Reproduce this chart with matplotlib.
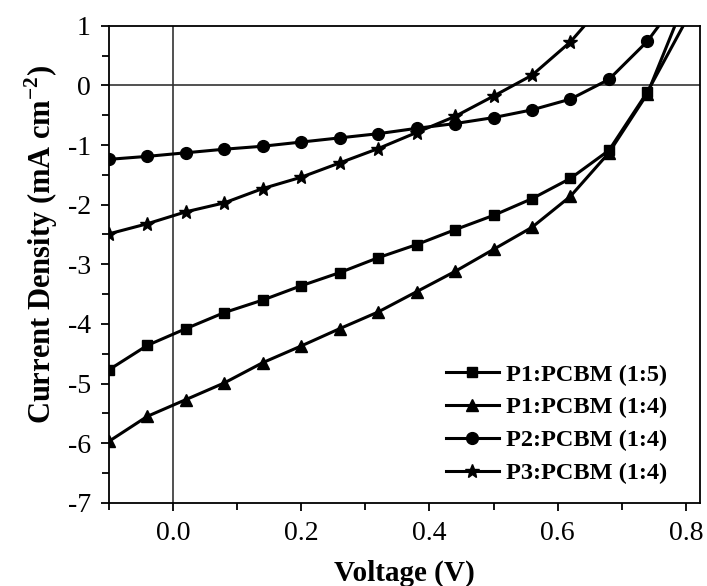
import numpy as np
import matplotlib
matplotlib.use("Agg")
import matplotlib.pyplot as plt
from matplotlib.ticker import MultipleLocator

plt.rcParams['font.family'] = ['Liberation Serif', 'DejaVu Serif']
plt.rcParams['mathtext.fontset'] = 'custom'
plt.rcParams['mathtext.rm'] = 'Liberation Serif'
plt.rcParams['mathtext.bf'] = 'Liberation Serif:bold'
plt.rcParams['axes.unicode_minus'] = False

# voltage at the marker positions (V)
v = [-0.10, -0.04, 0.02, 0.08, 0.14, 0.20, 0.26, 0.32, 0.38,
     0.44, 0.50, 0.56, 0.62, 0.68, 0.74]

# current density (mA cm^-2)
p1_15 = [-4.77, -4.36, -4.08, -3.81, -3.60, -3.36, -3.14, -2.89, -2.67,
         -2.42, -2.18, -1.90, -1.56, -1.09, -0.11]
p1_14 = [-5.97, -5.55, -5.27, -4.99, -4.65, -4.37, -4.08, -3.80, -3.46,
         -3.12, -2.75, -2.38, -1.86, -1.13, -0.14]
p2_14 = [-1.24, -1.19, -1.13, -1.07, -1.02, -0.95, -0.88, -0.81, -0.72,
         -0.64, -0.54, -0.41, -0.23, 0.10, 0.74]
p3_14 = [-2.49, -2.32, -2.12, -1.97, -1.73, -1.54, -1.30, -1.06, -0.79,
         -0.52, -0.18, 0.17, 0.73]

# where each curve leaves the top of the frame (no marker there)
end_15 = (0.800, 1.08)
end_14 = (0.786, 1.08)
end_p2 = (0.762, 1.06)
end_p3 = (0.650, 1.10)

series = [
    (v + [end_15[0]], p1_15 + [end_15[1]], 's', 7.5, 'P1:PCBM (1:5)'),
    (v + [end_14[0]], p1_14 + [end_14[1]], '^', 8.5, 'P1:PCBM (1:4)'),
    (v + [end_p2[0]], p2_14 + [end_p2[1]], 'o', 8.5, 'P2:PCBM (1:4)'),
    (v[:13] + [end_p3[0]], p3_14 + [end_p3[1]], '*', 10, 'P3:PCBM (1:4)'),
]

fig = plt.figure(figsize=(7.07, 5.86), dpi=100)
ax = fig.add_axes([0.154, 0.142, 0.836, 0.814])

ax.axhline(0, color='#333333', lw=1.2, zorder=1)
ax.axvline(0, color='#333333', lw=1.2, zorder=1)

for x, y, m, ms, lab in series:
    ax.plot(x, y, '-', color='black', lw=2.2, marker=m, ms=ms,
            markevery=slice(0, len(x) - 1), label=lab, zorder=3)

ax.set_xlim(-0.1, 0.822)
ax.set_ylim(-7, 1)
ax.xaxis.set_major_locator(MultipleLocator(0.2))
ax.xaxis.set_minor_locator(MultipleLocator(0.1))
ax.yaxis.set_major_locator(MultipleLocator(1))
ax.yaxis.set_minor_locator(MultipleLocator(0.5))
ax.xaxis.set_major_formatter(plt.FormatStrFormatter('%.1f'))
ax.yaxis.set_major_formatter(plt.FormatStrFormatter('%d'))
ax.tick_params(which='both', direction='out', width=1.3, labelsize=20)
ax.tick_params(axis='x', which='major', length=6, pad=7)
ax.tick_params(axis='y', which='major', length=6, pad=7)
ax.tick_params(which='minor', length=5)
for s in ax.spines.values():
    s.set_linewidth(1.3)

ax.set_xlabel('Voltage (V)', fontsize=21, fontweight='bold')
ax.set_ylabel('Current Density (mA cm$^{\\mathbf{-2}}$)', fontsize=22,
              fontweight='bold')
ax.xaxis.set_label_coords(0.5, -0.12)
ax.yaxis.set_label_coords(-0.082, 0.541)

ax.legend(loc='lower right', frameon=False, prop={'weight': 'bold', 'size': 17.5},
          handlelength=2.2, handletextpad=0.3, labelspacing=0.45,
          bbox_to_anchor=(0.970, 0.008), borderaxespad=0.2)

fig.savefig('out.png', dpi=100)
